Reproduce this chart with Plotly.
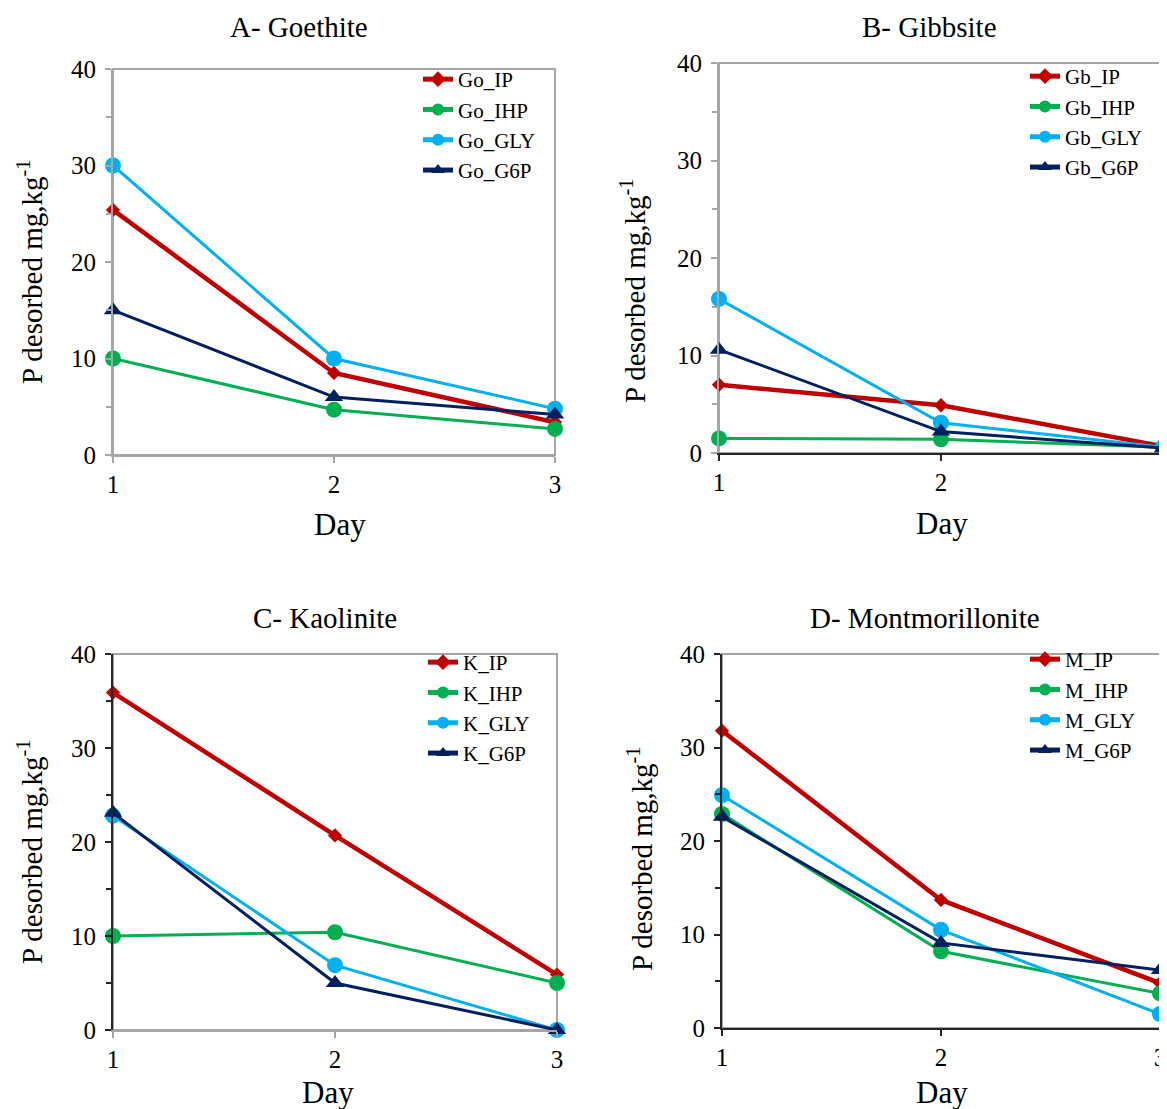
import plotly.graph_objects as go

# the page body has an 8px margin, so the figure is drawn 8px in from the top-left
OFF = 8
W, H = 1167 - OFF, 1109 - OFF

days = [1, 2, 3]

# panel A - Goethite
go_ip = [25.4, 8.5, 3.4]
go_ihp = [10.0, 4.7, 2.7]
go_gly = [30.0, 10.0, 4.8]
go_g6p = [15.0, 6.0, 4.2]

# panel B - Gibbsite
gb_ip = [7.0, 4.9, 0.7]
gb_ihp = [1.5, 1.4, 0.6]
gb_gly = [15.8, 3.1, 0.6]
gb_g6p = [10.6, 2.2, 0.5]

# panel C - Kaolinite
k_ip = [35.9, 20.7, 5.9]
k_ihp = [10.0, 10.4, 5.0]
k_gly = [22.8, 6.9, 0.0]
k_g6p = [23.1, 5.0, 0.0]

# panel D - Montmorillonite
m_ip = [31.8, 13.7, 4.8]
m_ihp = [22.9, 8.2, 3.7]
m_gly = [24.9, 10.5, 1.5]
m_g6p = [22.6, 9.1, 6.2]

titles = ["A- Goethite", "B- Gibbsite", "C- Kaolinite", "D- Montmorillonite"]

RED, GREEN, BLUE, NAVY = "#C00000", "#00B050", "#00B0F0", "#002060"
GRAY, DARK = "#A6A6A6", "#262626"
FONT = "Liberation Serif, Times New Roman, serif"


def px(x):
    return (x - OFF) / W


def py(y):
    return 1 - (y - OFF) / H


# pixel boxes of each plot area (screen px): left, right, top, bottom
boxes = [(113, 555, 69, 455), (719, 1163, 63, 453),
         (113, 557, 654, 1030), (722, 1160, 654, 1028)]
# colour of left / bottom axis line per panel
axcol = [(GRAY, GRAY), (GRAY, DARK), (DARK, GRAY), (DARK, DARK)]

panels = [
    (["Go_IP", "Go_IHP", "Go_GLY", "Go_G6P"], [go_ip, go_ihp, go_gly, go_g6p]),
    (["Gb_IP", "Gb_IHP", "Gb_GLY", "Gb_G6P"], [gb_ip, gb_ihp, gb_gly, gb_g6p]),
    (["K_IP", "K_IHP", "K_GLY", "K_G6P"], [k_ip, k_ihp, k_gly, k_g6p]),
    (["M_IP", "M_IHP", "M_GLY", "M_G6P"], [m_ip, m_ihp, m_gly, m_g6p]),
]

styles = [
    dict(color=RED, width=4.5, symbol="diamond", size=11),
    dict(color=GREEN, width=3, symbol="circle", size=16),
    dict(color=BLUE, width=3, symbol="circle", size=16),
    dict(color=NAVY, width=3, symbol="triangle-up", size=16),
]

fig = go.Figure()
layout = dict(width=W, height=H, margin=dict(l=0, r=0, t=0, b=0, autoexpand=False),
              paper_bgcolor="white", plot_bgcolor="white",
              font=dict(family=FONT, color="black"), showlegend=True)
shapes = []
annotations = []

# legend top-left corner (screen px)
legend_pos = [(418, 59), (1025, 56), (423, 642), (1025, 639)]

for i, (names, series) in enumerate(panels):
    n = "" if i == 0 else str(i + 1)
    xa, ya = "x" + n, "y" + n
    lg = "legend" + n
    for name, vals, st in zip(names, series, styles):
        fig.add_trace(go.Scatter(
            x=days, y=vals, name=name, mode="lines+markers",
            line=dict(color=st["color"], width=st["width"]),
            marker=dict(color=st["color"], symbol=st["symbol"], size=st["size"]),
            xaxis=xa, yaxis=ya, legend=lg, cliponaxis=False))

    l, r, t, b = boxes[i]
    lc, bc = axcol[i]
    layout["xaxis" + n] = dict(
        domain=[px(l), px(r)], range=[1, 3], anchor=ya, tickvals=days, automargin=False,
        showgrid=False, zeroline=False, showline=True, linecolor=bc, linewidth=2,
        ticks="outside", ticklen=6, tickwidth=2, tickcolor=bc,
        tickfont=dict(size=25, family=FONT, color="black"))
    layout["yaxis" + n] = dict(
        domain=[py(b), py(t)], range=[0, 40], anchor=xa, dtick=10, automargin=False,
        showgrid=False, zeroline=False, showline=True, linecolor=lc, linewidth=2,
        ticks="outside", ticklen=6, tickwidth=2, tickcolor=lc, ticklabelstandoff=4,
        minor=dict(dtick=5, ticks="outside", ticklen=5, tickwidth=2, tickcolor=lc),
        tickfont=dict(size=25, family=FONT, color="black"))
    shapes.append(dict(type="rect", xref=xa + " domain", yref=ya + " domain",
                       x0=0, x1=1, y0=0, y1=1, layer="below",
                       line=dict(color=GRAY, width=2)))
    lx, ly = legend_pos[i]
    layout[lg] = dict(x=px(lx), y=py(ly), xanchor="left", yanchor="top",
                      bgcolor="rgba(0,0,0,0)", tracegroupgap=0, itemsizing="constant",
                      font=dict(size=21, family=FONT, color="black"))

# titles, axis titles (screen px centres)
title_pos = [(299, 27), (929, 27), (325, 618), (925, 618)]
day_pos = [(340, 525), (942, 523), (328, 1092), (942, 1092)]
ytitle_pos = [(30, 272), (633, 291), (30, 852), (640, 859)]
for i in range(4):
    tx, ty = title_pos[i]
    annotations.append(dict(text=titles[i], x=px(tx), y=py(ty), xref="paper", yref="paper",
                            xanchor="center", yanchor="middle", showarrow=False,
                            font=dict(size=29, family=FONT, color="black")))
    dx, dy = day_pos[i]
    annotations.append(dict(text="Day", x=px(dx), y=py(dy), xref="paper", yref="paper",
                            xanchor="center", yanchor="middle", showarrow=False,
                            font=dict(size=31, family=FONT, color="black")))
    yx, yy = ytitle_pos[i]
    annotations.append(dict(text="P desorbed mg,kg<sup>-1</sup>", x=px(yx), y=py(yy),
                            xref="paper", yref="paper", textangle=-90, showarrow=False,
                            xanchor="center", yanchor="middle",
                            font=dict(size=29, family=FONT, color="black")))

layout["shapes"] = shapes
layout["annotations"] = annotations
fig.update_layout(**layout)

fig.write_html("out.html")
